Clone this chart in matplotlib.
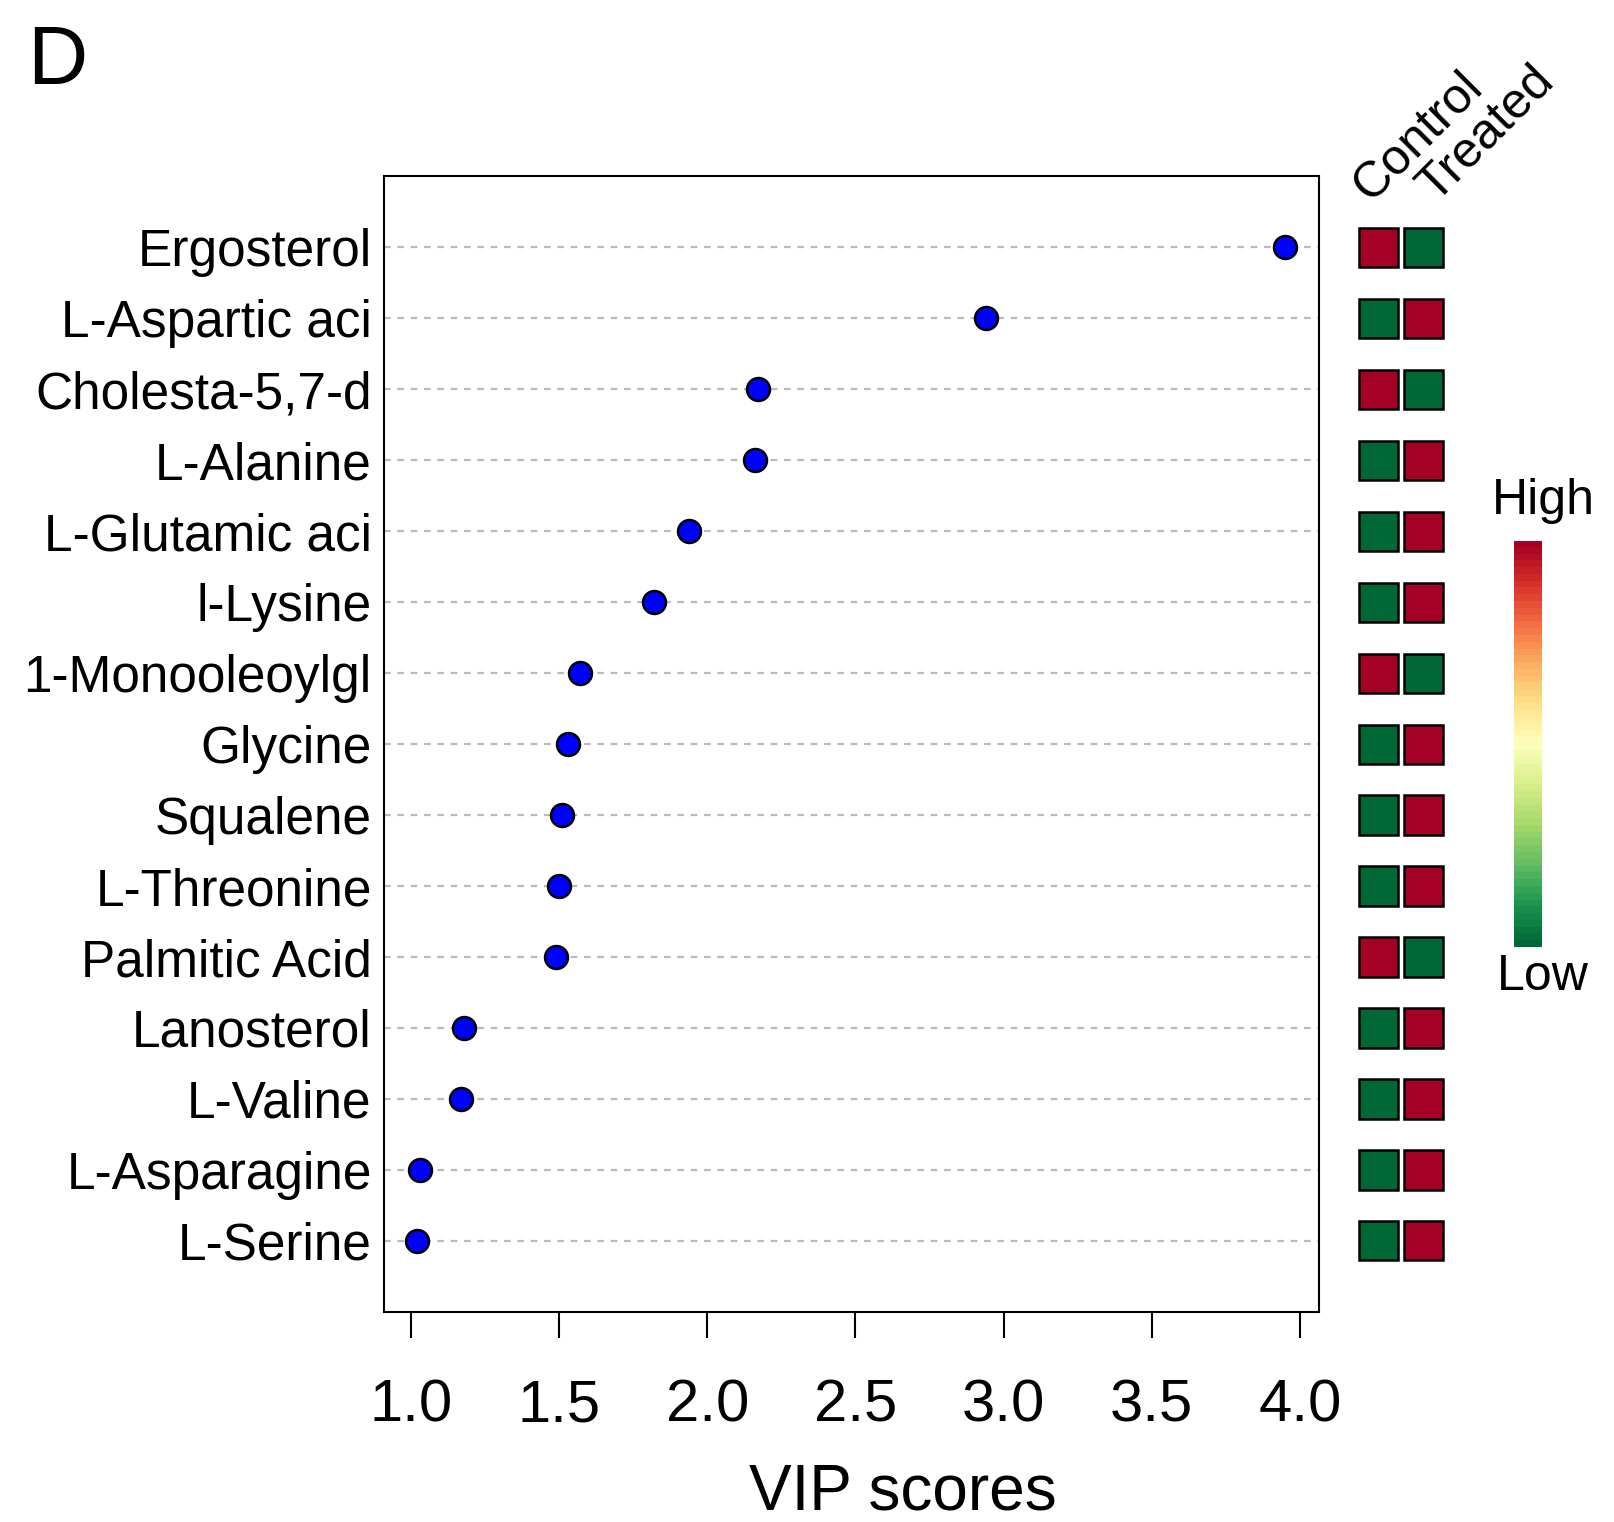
import matplotlib
matplotlib.use("Agg")
import matplotlib.pyplot as plt
import numpy as np

plt.rcParams['font.family'] = ['Liberation Sans', 'DejaVu Sans']

metabolites = ["Ergosterol", "L-Aspartic aci", "Cholesta-5,7-d", "L-Alanine",
               "L-Glutamic aci", "l-Lysine", "1-Monooleoylgl", "Glycine",
               "Squalene", "L-Threonine", "Palmitic Acid", "Lanosterol",
               "L-Valine", "L-Asparagine", "L-Serine"]
vip = [3.95, 2.94, 2.17, 2.16, 1.94, 1.82, 1.57, 1.53, 1.51, 1.50, 1.49,
       1.18, 1.17, 1.03, 1.02]
# 1 = high, 0 = low
control = [1, 0, 1, 0, 0, 0, 1, 0, 0, 0, 1, 0, 0, 0, 0]
treated = [0, 1, 0, 1, 1, 1, 0, 1, 1, 1, 0, 1, 1, 1, 1]
groups = ["Control", "Treated"]
xticks = [1.0, 1.5, 2.0, 2.5, 3.0, 3.5, 4.0]

red = "#A50026"
green = "#006837"
cmap = plt.get_cmap("RdYlGn_r")

fig = plt.figure(figsize=(16.15, 15.22), dpi=100)
ax = fig.add_axes([0.2379, 0.138, 0.5791, 0.7463])

rows = np.arange(1, len(metabolites) + 1)
for r in rows:
    ax.axhline(r, color="#bbbbbb", lw=1.6, ls=(0, (3, 3)), zorder=1)
ax.plot(vip, rows, "o", ms=16.5, mfc="#0000ff", mec="black", mew=1.8,
        ls="none", zorder=3)

ax.set_ylim(16, 0)
ax.set_xlim(0.91, 4.066)
ax.set_yticks(rows)
ax.set_yticklabels(metabolites, fontsize=37)
ax.tick_params(axis="y", length=0, pad=9)
ax.set_xticks(xticks)
ax.set_xticklabels([f"{t:.1f}" for t in xticks], fontsize=43)
ax.tick_params(axis="x", length=19, width=1.5, pad=29)
ax.set_xlabel("VIP scores", fontsize=46, labelpad=21, x=0.555)
for s in ax.spines.values():
    s.set_linewidth(1.5)

# heat squares
hx = fig.add_axes([0.8393, 0.138, 0.0561, 0.7463], sharey=ax)
hx.set_xlim(0, 2)
for i, vals in enumerate([control, treated]):
    cols = [red if v else green for v in vals]
    hx.barh(rows, 0.86, left=i + 0.07, height=0.55, color=cols,
            edgecolor="black", linewidth=1.8)
hx.axis("off")
label_x = [0.33, 1.77]
for g, lx in zip(groups, label_x):
    hx.text(lx, 0.38, g, rotation=45, rotation_mode="anchor",
            ha="left", va="baseline", fontsize=36)

# color bar
cx = fig.add_axes([0.9375, 0.3775, 0.0172, 0.2673])
grad = np.linspace(0, 1, 60).reshape(-1, 1)
cx.imshow(grad, cmap=cmap, aspect="auto", origin="lower")
cx.axis("off")
fig.text(0.9555, 0.656, "High", ha="center", va="bottom", fontsize=36)
fig.text(0.9555, 0.3735, "Low", ha="center", va="top", fontsize=36)

fig.text(0.017, 0.985, "D", ha="left", va="top", fontsize=60)

fig.savefig("out.png", dpi=100)
